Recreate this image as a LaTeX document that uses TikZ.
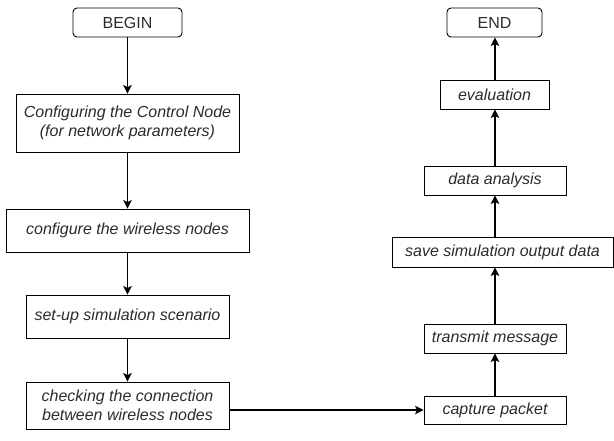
\documentclass[tikz,border=0pt]{standalone}
\usepackage{fontspec}
\setmainfont{Liberation Sans}
\usepackage{xcolor}
\usepackage{tikz}
\usetikzlibrary{arrows.meta,calc}

\definecolor{txtgray}{HTML}{2B2B2B}
\tikzset{
  box/.style={draw,line width=0.9pt,minimum height=29pt,align=center,inner sep=2pt,
    text=txtgray,font=\fontsize{16}{19}\selectfont\itshape},
  termbox/.style={box,rounded corners=4pt,font=\fontsize{16}{19}\selectfont},
  arr/.style={-{Stealth[length=8.5pt,width=8.5pt,inset=2pt]},line width=1.1pt}
}

\begin{document}
\begin{tikzpicture}[x=1pt,y=-1pt]
\useasboundingbox (0,0) rectangle (614,441);
% left column
\node[termbox,minimum width=109pt] (begin) at (127.5,22.5) {BEGIN};
\node[box,minimum width=223pt,minimum height=58pt] (ctrl) at (127.5,123)
  {Configuring the Control Node\\(for network parameters)};
\node[box,minimum width=243pt,minimum height=43pt] (wless) at (127.5,230.5) {configure the wireless nodes};
\node[box,minimum width=203pt,minimum height=43pt] (scen) at (127.5,316.5) {set-up simulation scenario};
\node[box,minimum width=203pt,minimum height=47pt] (check) at (127.5,405.5)
  {checking the connection\\between wireless nodes};
% right column
\coordinate (col) at (495,0);
\node[box,minimum width=142pt,minimum height=28pt] (capture) at (495,410) {capture packet};
\node[box,minimum width=142pt] (transmit) at (495,338.5) {transmit message};
\node[box,minimum width=221pt,minimum height=30pt] (save) at (502.5,252) {save simulation output data};
\node[box,minimum width=142pt] (data) at (495,180.5) {data analysis};
\node[box,minimum width=109pt] (eval) at (494.5,94.5) {evaluation};
\node[termbox,minimum width=95pt] (end) at (494.5,22.5) {END};

\foreach \a/\b in {begin/ctrl,ctrl/wless,wless/scen,scen/check}
{\draw[arr] (\a) -- (\b);}
\foreach \a/\b in {capture/transmit,transmit/save,save/data,data/eval,eval/end}
{\draw[arr] (col |- \a.north) -- (col |- \b.south);}
\draw[arr] (check.east |- capture) -- (capture.west);
\end{tikzpicture}
\end{document}
